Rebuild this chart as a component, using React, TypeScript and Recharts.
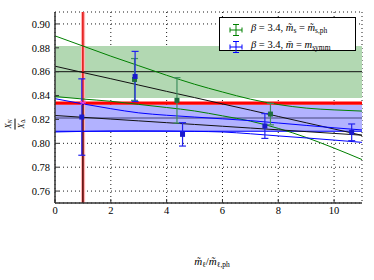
import React from "react";
import {
  ComposedChart, Line, Scatter, ErrorBar, XAxis, YAxis, CartesianGrid,
  ReferenceArea, ReferenceLine, Legend,
} from "recharts";

// fit curves, sampled at integer m_l / m_l,ph
const fitX = [0, 1, 2, 3, 4, 5, 6, 7, 8, 9, 10, 11];
const greenHi = [0.890, 0.8815, 0.873, 0.865, 0.857, 0.8495, 0.843, 0.837, 0.8325, 0.8295, 0.828, 0.827];
const greenMid = [0.8646, 0.8593, 0.8541, 0.8488, 0.8435, 0.8383, 0.833, 0.8278, 0.8225, 0.8172, 0.812, 0.8067];
const greenLo = [0.8392, 0.8371, 0.8352, 0.8326, 0.830, 0.8271, 0.823, 0.8186, 0.8125, 0.8049, 0.796, 0.7864];
const blueHi = [0.8374, 0.833, 0.829, 0.8255, 0.8235, 0.822, 0.8205, 0.819, 0.817, 0.815, 0.813, 0.8112];
const blueMid = [0.8233, 0.8218, 0.8203, 0.8188, 0.8173, 0.8158, 0.8143, 0.8128, 0.8113, 0.8098, 0.8083, 0.8068];
const blueLo = [0.8095, 0.810, 0.8103, 0.8104, 0.8103, 0.810, 0.8095, 0.808, 0.8062, 0.8045, 0.8027, 0.8008];

// lattice points
const greenX = [2.85, 4.37, 7.72];
const greenY = [0.8535, 0.836, 0.8245];
const greenErr = [0.0175, 0.019, 0.009];
const blueX = [0.96, 2.87, 4.57, 7.52, 10.63];
const blueY = [0.822, 0.856, 0.8075, 0.8145, 0.8092];
const blueErr = [0.032, 0.021, 0.0098, 0.0104, 0.007];

// horizontal bands and physical point
const greenBand = [0.8379, 0.8816];
const greenCentre = 0.86;
const blueBand = [0.8101, 0.8322];
const blueCentre = 0.8212;
const expBand = [0.8322, 0.835];
const physX = 1;
const physXBand = [0.93, 1.08];
const physY = 0.834;

const xTicks = [0, 2, 4, 6, 8, 10];
const yTicks = [0.76, 0.78, 0.8, 0.82, 0.84, 0.86, 0.88, 0.9];

const GREEN = "#008000";
const BLUE = "#0000ff";
const FONT = "Liberation Serif, DejaVu Serif, serif";

const curve = (ys: number[]) => fitX.map((x, i) => ({ x, y: ys[i] }));
const points = (xs: number[], ys: number[], es: number[]) =>
  xs.map((x, i) => ({ x, y: ys[i], err: es[i] }));

const Square = (p: any) => (
  <rect x={p.cx - 2.5} y={p.cy - 2.5} width={5} height={5} fill={p.fill} />
);

const Star = (p: any) => (
  <g stroke="#ee44ee" strokeWidth={1}>
    <line x1={p.cx - 3} y1={p.cy} x2={p.cx + 3} y2={p.cy} />
    <line x1={p.cx - 2.2} y1={p.cy - 2.2} x2={p.cx + 2.2} y2={p.cy + 2.2} />
    <line x1={p.cx - 2.2} y1={p.cy + 2.2} x2={p.cx + 2.2} y2={p.cy - 2.2} />
  </g>
);

function ErrIcon({ color }: { color: string }) {
  return (
    <svg width={14} height={12} style={{ display: "block" }}>
      <g stroke={color} strokeWidth={1}>
        <line x1={7} y1={0.5} x2={7} y2={11.5} />
        <line x1={4} y1={0.5} x2={10} y2={0.5} />
        <line x1={4} y1={11.5} x2={10} y2={11.5} />
        <line x1={1} y1={6} x2={13} y2={6} />
        <line x1={1} y1={3.5} x2={1} y2={8.5} />
        <line x1={13} y1={3.5} x2={13} y2={8.5} />
      </g>
    </svg>
  );
}

const sub = { fontSize: 7.5, verticalAlign: "-2px", fontStyle: "normal" } as const;

function LegendBox() {
  return (
    <div
      style={{
        border: "1px solid #000", background: "#fff", width: 137, height: 34,
        fontFamily: FONT, fontSize: 10.5, color: "#000", boxSizing: "border-box",
        padding: "3px 0 0 9px", lineHeight: "14px",
      }}
    >
      <div style={{ display: "flex", alignItems: "center", gap: 8 }}>
        <ErrIcon color={GREEN} />
        <span>
          <i>β</i> = 3.4, <i>m̃</i><span style={sub}>s</span> = <i>m̃</i>
          <span style={sub}>s,ph</span>
        </span>
      </div>
      <div style={{ display: "flex", alignItems: "center", gap: 8 }}>
        <ErrIcon color={BLUE} />
        <span>
          <i>β</i> = 3.4, <i>m̄</i> = <i>m</i><span style={sub}>symm</span>
        </span>
      </div>
    </div>
  );
}

export default function App() {
  const axisLine = { stroke: "#333", strokeWidth: 1.5 };
  const tickLine = { stroke: "#333", strokeWidth: 1 };
  const tickFont = { fill: "#000", fontSize: 10.5, fontFamily: FONT };
  return (
    <div style={{ position: "absolute", left: 0, top: 0, width: 374, height: 280, background: "#fff", fontFamily: FONT }}>
      <ComposedChart width={374} height={280} margin={{ top: 12, right: 12, bottom: 0, left: 0 }}>
        <XAxis
          type="number" dataKey="x" domain={[0, 11]} ticks={xTicks} height={43}
          allowDataOverflow tickSize={-4} tickMargin={8}
          axisLine={axisLine} tickLine={tickLine} tick={tickFont}
        />
        <XAxis
          xAxisId="top" orientation="top" type="number" dataKey="x" domain={[0, 11]}
          ticks={xTicks} height={0} tickSize={-4} tickFormatter={() => ""}
          axisLine={axisLine} tickLine={tickLine}
        />
        <YAxis
          type="number" dataKey="y" domain={[0.75, 0.91]} ticks={yTicks} width={55}
          allowDataOverflow tickSize={-4} tickMargin={9}
          tickFormatter={(v: number) => v.toFixed(2)}
          axisLine={axisLine} tickLine={tickLine} tick={tickFont}
        />
        <YAxis
          yAxisId="right" orientation="right" type="number" dataKey="y" domain={[0.75, 0.91]}
          ticks={yTicks} width={0} tickSize={-4} tickFormatter={() => ""}
          axisLine={axisLine} tickLine={tickLine}
        />
        <CartesianGrid stroke="#000" strokeDasharray="1 3" strokeWidth={0.9} />

        <ReferenceArea y1={greenBand[0]} y2={greenBand[1]} fill="#b2d8b2" fillOpacity={1} stroke="none" />
        <ReferenceArea y1={blueBand[0]} y2={blueBand[1]} fill="#b2b2ff" fillOpacity={1} stroke="none" />
        <ReferenceArea
          x1={physXBand[0]} x2={physXBand[1]} y1={0.75} y2={0.91}
          fill="#ffb2b2" fillOpacity={1} stroke="none"
        />
        <ReferenceArea y1={expBand[0]} y2={expBand[1]} fill="#ff0000" fillOpacity={1} stroke="none" />
        <ReferenceLine y={greenCentre} stroke="#111" strokeWidth={1} />
        <ReferenceLine y={blueCentre} stroke="#44447a" strokeWidth={1} />
        <ReferenceLine y={blueBand[0]} stroke={BLUE} strokeWidth={1} />
        <ReferenceLine x={physX} stroke="#e00000" strokeWidth={1.4} />
        <ReferenceLine
          segment={[{ x: physX, y: 0.75 }, { x: physX, y: physY }]}
          stroke="#111" strokeWidth={1}
        />

        <Line data={curve(greenHi)} dataKey="y" type="monotone" stroke={GREEN} strokeWidth={1} dot={false} isAnimationActive={false} />
        <Line data={curve(greenLo)} dataKey="y" type="monotone" stroke={GREEN} strokeWidth={1} dot={false} isAnimationActive={false} />
        <Line data={curve(greenMid)} dataKey="y" type="linear" stroke="#111" strokeWidth={1} dot={false} isAnimationActive={false} />
        <Line data={curve(blueHi)} dataKey="y" type="monotone" stroke={BLUE} strokeWidth={1} dot={false} isAnimationActive={false} />
        <Line data={curve(blueLo)} dataKey="y" type="monotone" stroke={BLUE} strokeWidth={1} dot={false} isAnimationActive={false} />
        <Line data={curve(blueMid)} dataKey="y" type="linear" stroke="#111" strokeWidth={1} dot={false} isAnimationActive={false} />

        <Scatter data={points(greenX, greenY, greenErr)} dataKey="y" fill="#1f6f3f" shape={Square} isAnimationActive={false}>
          <ErrorBar dataKey="err" direction="y" width={3.5} stroke="#3f8f5f" strokeWidth={1.2} />
        </Scatter>
        <Scatter data={points(blueX, blueY, blueErr)} dataKey="y" fill="#1a1acc" shape={Square} isAnimationActive={false}>
          <ErrorBar dataKey="err" direction="y" width={3.5} stroke="#2222ee" strokeWidth={1.2} />
        </Scatter>
        <Scatter data={[{ x: physX, y: physY }]} dataKey="y" fill="#ee44ee" shape={Star} isAnimationActive={false} />

        <Legend content={() => <LegendBox />} wrapperStyle={{ position: "absolute", left: 219, top: 17, width: 137 }} />
      </ComposedChart>

      <div
        style={{
          position: "absolute", left: 212, top: 262, transform: "translate(-50%,-50%)",
          fontFamily: FONT, fontSize: 11, whiteSpace: "nowrap", color: "#000",
        }}
      >
        <i>m̃</i><span style={sub}>ℓ</span>/<i>m̃</i><span style={sub}>ℓ,ph</span>
      </div>
      <div
        style={{
          position: "absolute", left: 15, top: 124, transform: "translate(-50%,-50%) rotate(-90deg)",
          fontFamily: FONT, fontSize: 8.5, fontStyle: "italic", textAlign: "center", lineHeight: "8px",
          color: "#000",
        }}
      >
        <div style={{ borderBottom: "0.8px solid #000", padding: "0 1px 1px" }}>
          X<span style={{ fontSize: 6, verticalAlign: "-1px" }}>N</span>
        </div>
        <div style={{ paddingTop: 1 }}>
          X<span style={{ fontSize: 6, verticalAlign: "-1px", fontStyle: "normal" }}>Δ</span>
        </div>
      </div>
    </div>
  );
}
